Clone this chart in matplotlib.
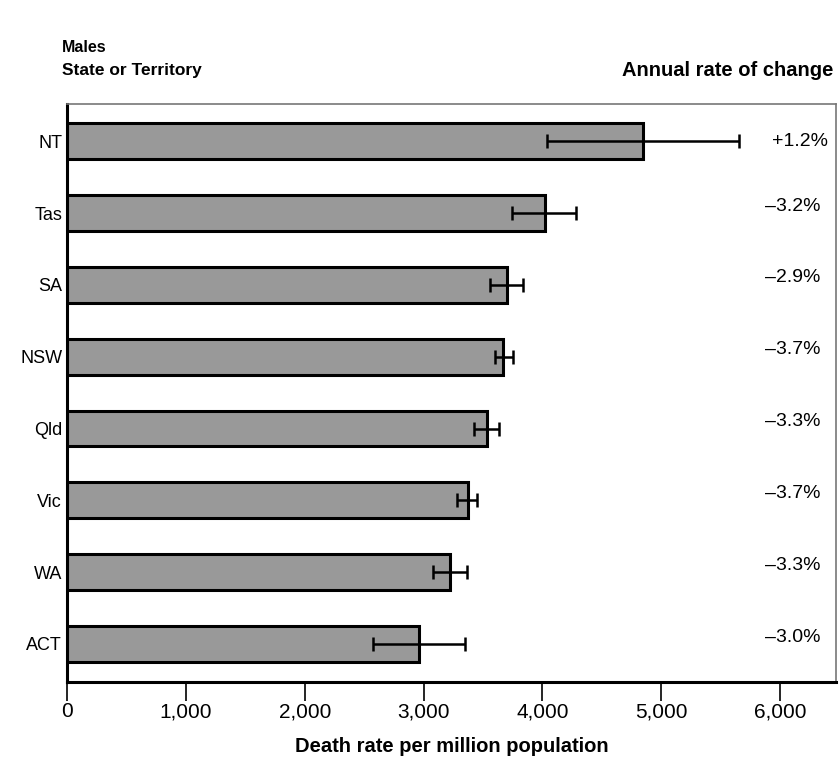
import matplotlib
matplotlib.use("Agg")
import matplotlib.pyplot as plt
from matplotlib import font_manager

states = ["NT", "Tas", "SA", "NSW", "Qld", "Vic", "WA", "ACT"]
rates = [4850, 4020, 3700, 3670, 3535, 3370, 3225, 2965]
ci_low = [4040, 3745, 3555, 3600, 3425, 3280, 3080, 2575]
ci_high = [5650, 4285, 3840, 3750, 3635, 3450, 3365, 3350]
changes = ["+1.2%", "\u20133.2%", "\u20132.9%", "\u20133.7%", "\u20133.3%", "\u20133.7%", "\u20133.3%", "\u20133.0%"]
xticks = [0, 1000, 2000, 3000, 4000, 5000, 6000]
xticklabels = ["0", "1,000", "2,000", "3,000", "4,000", "5,000", "6,000"]

names = {f.name for f in font_manager.fontManager.ttflist}
base = "Liberation Sans" if "Liberation Sans" in names else "DejaVu Sans"
plt.rcParams['font.family'] = [base, 'DejaVu Sans']

fig = plt.figure(figsize=(8.39, 7.64), dpi=100)
ax = fig.add_axes([67/839, 1-682/764, (836-67)/839, (682-104)/764])

n = len(states)
ypos = [n - 1 - i for i in range(n)]
xerr = [[r - lo for r, lo in zip(rates, ci_low)], [hi - r for r, hi in zip(rates, ci_high)]]

ax.barh(ypos, rates, height=0.5, color="#999999", edgecolor="black", linewidth=2.2, zorder=2)
ax.errorbar(rates, ypos, xerr=xerr, fmt="none", ecolor="black", elinewidth=1.8,
            capsize=5, capthick=1.8, zorder=3)

ax.set_xlim(0, 6470)
ax.set_ylim(-0.53, n - 1 + 0.52)
ax.set_yticks(ypos)
ax.set_yticklabels(states, fontsize=13)
ax.tick_params(axis="y", length=0, pad=3.5)
ax.set_xticks(xticks)
ax.set_xticklabels(xticklabels, fontsize=15)
ax.tick_params(axis="x", length=14, width=1.2, direction="out", pad=0.5)

for side in ["left", "bottom"]:
    ax.spines[side].set_linewidth(2.2)
    ax.spines[side].set_color("black")
for side in ["top", "right"]:
    ax.spines[side].set_linewidth(1.2)
    ax.spines[side].set_color("#777777")

for i, (y, lab) in enumerate(zip(ypos, changes)):
    if i == 0:
        ax.annotate(lab, xy=(1, y), xycoords=("axes fraction", "data"), xytext=(-6, 0),
                    textcoords="offset points", ha="right", va="center", fontsize=14)
    else:
        ax.annotate(lab, xy=(1, y), xycoords=("axes fraction", "data"), xytext=(-11, 5),
                    textcoords="offset points", ha="right", va="center", fontsize=14)

fig.text(62/839, 1-47/764, "Males", fontsize=11.5, fontweight="bold", ha="left", va="center")
fig.text(62/839, 1-70/764, "State or Territory", fontsize=12.5, fontweight="bold", ha="left", va="center")
fig.text(833/839, 1-70/764, "Annual rate of change", fontsize=14.5, fontweight="bold", ha="right", va="center")
fig.text((67+836)/2/839, 1-746/764, "Death rate per million population", fontsize=14.5,
         fontweight="bold", ha="center", va="center")

fig.savefig("out.png", dpi=100)
